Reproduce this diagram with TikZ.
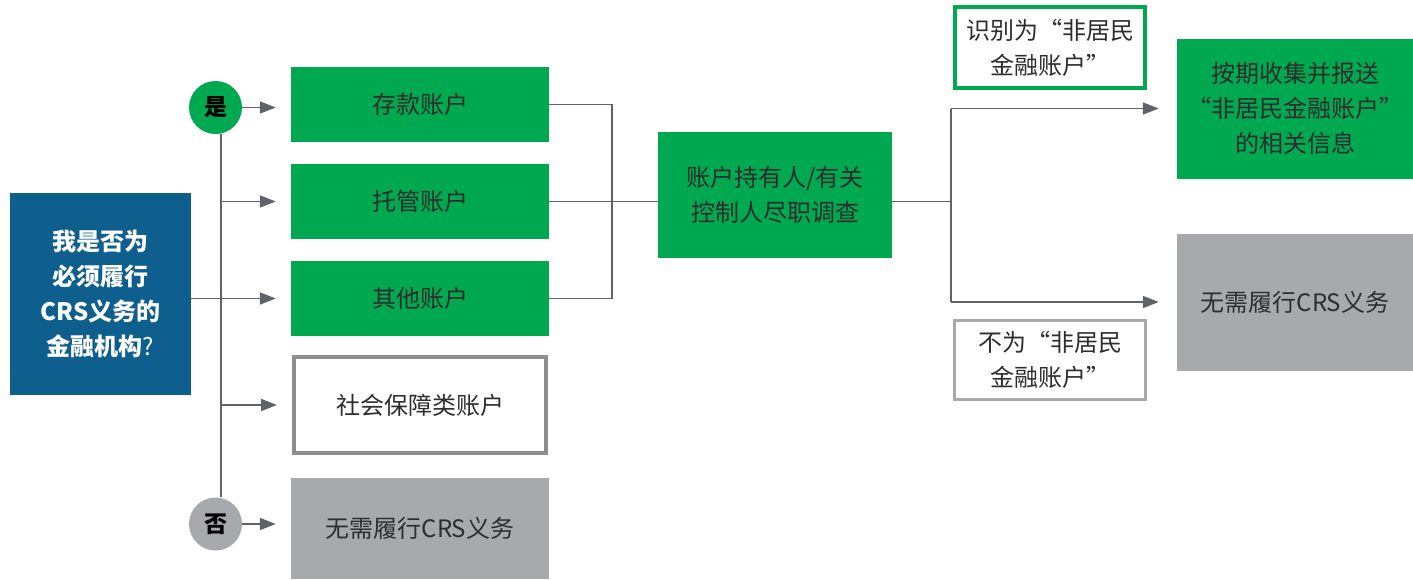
\documentclass[tikz,border=0pt]{standalone}
\usepackage{fontspec}
\setmainfont{Noto Sans CJK SC}
\usetikzlibrary{arrows.meta}
\definecolor{cgreen}{RGB}{0,168,80}
\definecolor{cgray}{RGB}{167,169,172}
\definecolor{cblue}{RGB}{14,94,142}
\definecolor{cline}{RGB}{95,99,105}
\definecolor{ctext}{RGB}{45,45,45}
\definecolor{cborder}{RGB}{140,142,145}
\begin{document}
\begin{tikzpicture}[x=1pt,y=-1pt,
  box/.style={rectangle, inner sep=0pt, align=center, text=ctext,
    font=\fontsize{24}{35}\selectfont},
  gbox/.style={box, fill=cgreen},
  graybox/.style={box, fill=cgray},
  circ/.style={circle, inner sep=0pt, minimum size=53pt, text=black,
    font=\fontsize{23}{26}\selectfont\bfseries},
  ln/.style={draw=cline, line width=1.8pt},
  arr/.style={ln, -{Triangle[length=16pt,width=12pt]}},
]
\useasboundingbox (0,0) rectangle (1413,579);

% nodes
\node[box, fill=cblue, text=white, minimum width=181pt, minimum height=202pt,
  font=\fontsize{24}{35}\selectfont\bfseries] (q) at (100.5,294)
  {我是否为\\必须履行\\CRS义务的\\金融机构{\mdseries ?}};
\node[circ, fill=cgreen] (yes) at (215.5,107.5) {是};
\node[circ, fill=cgray] (no) at (215.5,524) {否};
\coordinate (sp) at (221,0);

\node[gbox, minimum width=258pt, minimum height=75pt] (a1) at (420,104.5) {存款账户};
\node[gbox, minimum width=258pt, minimum height=75pt] (a2) at (420,201.5) {托管账户};
\node[gbox, minimum width=258pt, minimum height=75pt] (a3) at (420,298.5) {其他账户};
\node[box, draw=cborder, line width=4pt, minimum width=252pt, minimum height=96pt] (a4) at (420,405) {社会保障类账户};
\node[graybox, minimum width=258pt, minimum height=101pt] (a5) at (420,528.5) {无需履行CRS义务};

\node[gbox, minimum width=234pt, minimum height=126pt] (c) at (775,195) {账户持有人/有关\\控制人尽职调查};

\node[box, draw=cgreen, line width=4pt, minimum width=190pt, minimum height=81pt] (l1) at (1050,47.5) {识别为“非居民\\金融账户”};
\node[box, draw=cgray, line width=3pt, minimum width=191pt, minimum height=79pt] (l2) at (1050,360) {不为“非居民\\金融账户”};

\node[gbox, minimum width=236pt, minimum height=140pt] (r1) at (1295,108.5) {按期收集并报送\\“非居民金融账户”\\的相关信息};
\node[graybox, minimum width=236pt, minimum height=137pt] (r2) at (1295,302) {无需履行CRS义务};

\coordinate (br) at (612,0);
\coordinate (rb) at (951,0);

% connectors
\draw[ln] (yes.south -| sp) -- (no.north -| sp);
\draw[arr, shorten >=15pt] (yes.east) -- (a1.west |- yes.east);
\draw[arr, shorten >=15pt] (no.east) -- (a5.west |- no.east);
\draw[arr, shorten >=15pt] (sp |- a2.west) -- (a2.west);
\draw[arr, shorten >=15pt] (q.east |- a3.west) -- (a3.west);
\draw[arr, shorten >=15pt] (sp |- a4.west) -- (a4.west);

\draw[ln] (a1.east) -| (br |- a3.east) -- (a3.east);
\draw[ln] (a2.east) -- (a2.east -| c.west);

\draw[ln] (c.east |- a2.east) -- (rb |- a2.east);
\draw[ln] (rb |- r1.west) -- (rb |- r2.west);
\draw[arr, shorten >=18pt] (rb |- r1.west) -- (r1.west);
\draw[arr, shorten >=18pt] (rb |- r2.west) -- (r2.west);
\end{tikzpicture}
\end{document}
